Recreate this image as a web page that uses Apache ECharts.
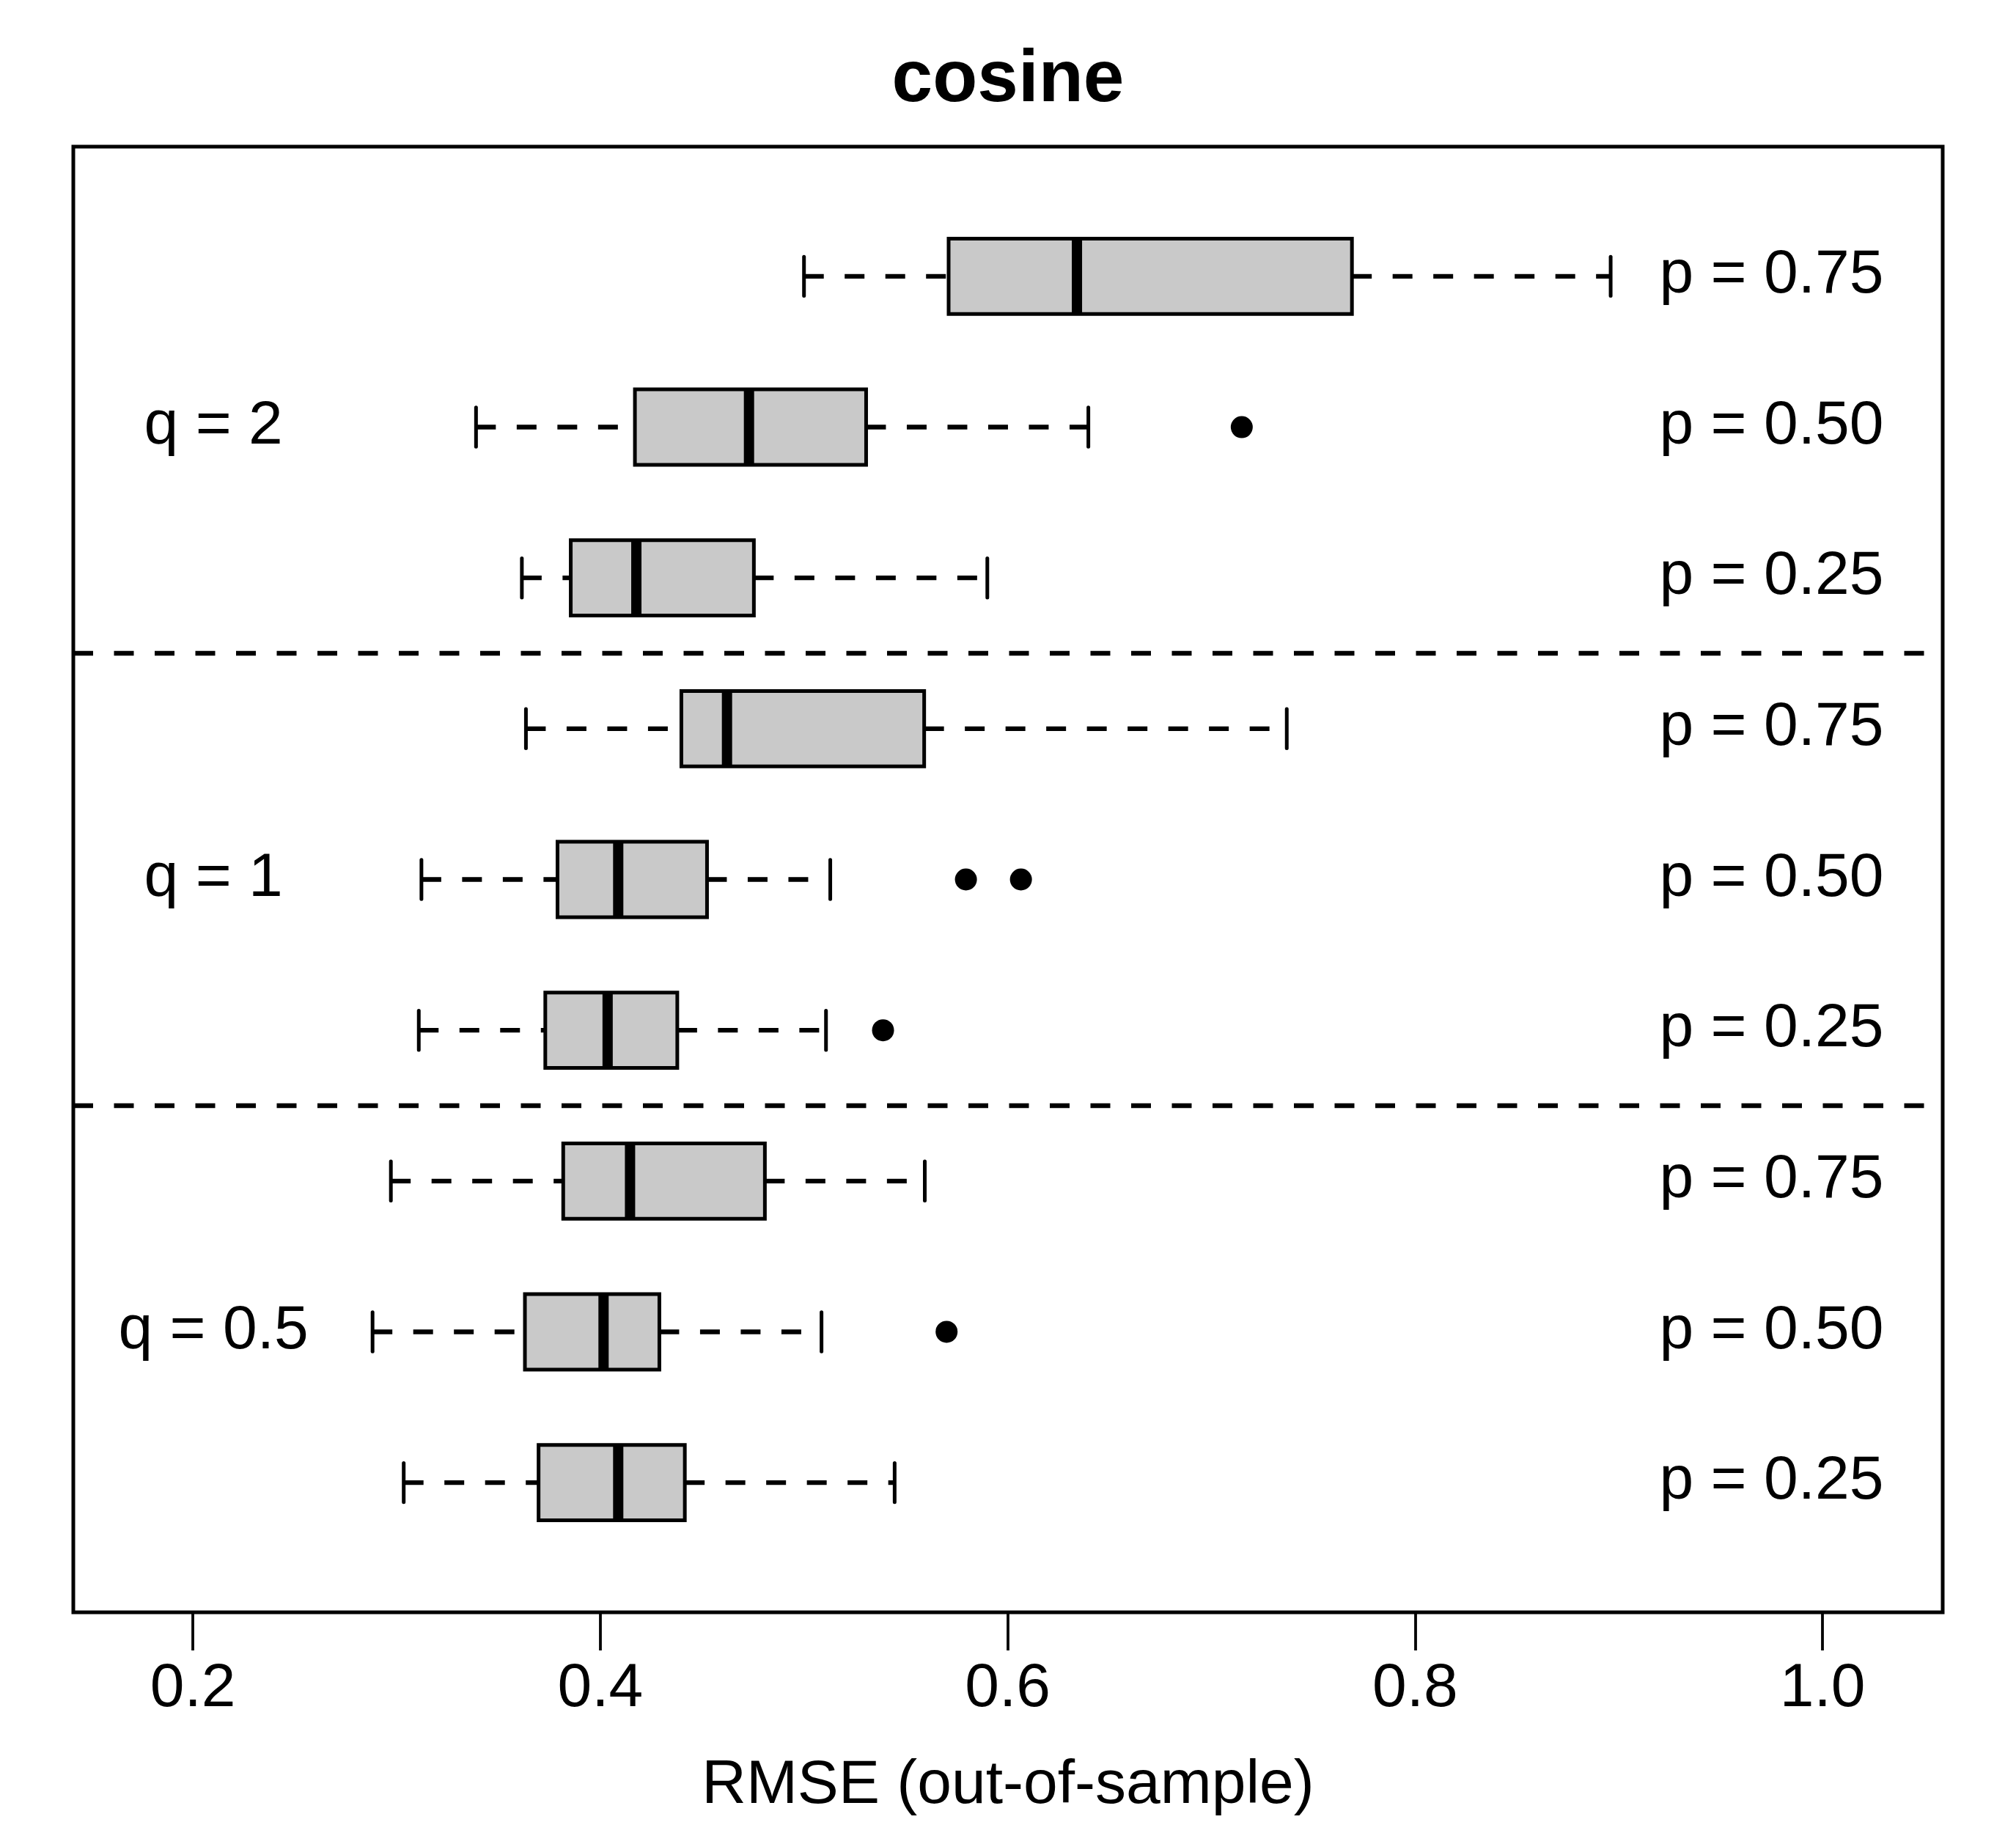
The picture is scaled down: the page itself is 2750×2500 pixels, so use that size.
<!DOCTYPE html>
<html>
<head>
<meta charset="utf-8">
<script src="https://cdn.jsdelivr.net/npm/echarts@6/dist/echarts.min.js"></script>
<style>
html,body{margin:0;padding:0;background:#ffffff;}
#chart{width:2750px;height:2500px;}
</style>
</head>
<body>
<div id="chart"></div>
<script>
// ---------------- data (bottom row = position 1) ----------------
const rowPositions = [1, 2, 3, 4, 5, 6, 7, 8, 9];
const rowLabels = ['p = 0.25', 'p = 0.50', 'p = 0.75',
                   'p = 0.25', 'p = 0.50', 'p = 0.75',
                   'p = 0.25', 'p = 0.50', 'p = 0.75'];
const lowerWhisker = [0.3035, 0.2882, 0.2972, 0.3109, 0.3122, 0.3635, 0.3615, 0.3390, 0.5000];
const lowerQuartile = [0.3697, 0.3630, 0.3818, 0.3730, 0.3790, 0.4398, 0.3855, 0.4170, 0.5710];
const medianValue   = [0.4088, 0.4016, 0.4146, 0.4036, 0.4088, 0.4622, 0.4177, 0.4730, 0.6340];
const upperQuartile = [0.4415, 0.4290, 0.4808, 0.4378, 0.4524, 0.5590, 0.4754, 0.5305, 0.7690];
const upperWhisker  = [0.5445, 0.5086, 0.5593, 0.5108, 0.5129, 0.7370, 0.5900, 0.6396, 0.8960];
const outlierPositions = [2, 4, 5, 5, 8];
const outlierValues    = [0.5700, 0.5388, 0.5795, 0.6065, 0.7149];
const groupLabels    = ['q = 0.5', 'q = 1', 'q = 2'];
const groupPositions = [2, 5, 8];
const separatorPositions = [3.5, 6.5];
const xTickValues = [0.2, 0.4, 0.6, 0.8, 1.0];
const titleText = 'cosine';
const xAxisTitle = 'RMSE (out-of-sample)';

// ---------------- styles ----------------
const FONT = '"Liberation Sans", Arial, Helvetica, sans-serif';
const LW = 5;
const DASH_LW = 6.3;
const MED_LW = 14;
const DASH = [27, 28.5];
const BOX_FILL = '#c9c9c9';
const BOX_HALF = 0.25;
const CAP_HALF = 0.13;
const Q_LABEL_X = 0.2101;
const P_LABEL_X = 0.9199;

const boxData = rowPositions.map((p, i) => [p, lowerWhisker[i], lowerQuartile[i], medianValue[i], upperQuartile[i], upperWhisker[i]]);
const outlierData = outlierPositions.map((p, i) => [outlierValues[i], p]);
const groupData = groupPositions.map(p => [Q_LABEL_X, p]);
const pLabelData = rowPositions.map(p => [P_LABEL_X, p]);
const sepData = separatorPositions.map(p => [0.6, p]);

function renderBox(params, api) {
  const pos = api.value(0);
  const lo = api.value(1), q1 = api.value(2), med = api.value(3), q3 = api.value(4), hi = api.value(5);
  const yc = api.coord([lo, pos])[1];
  const yTop = api.coord([lo, pos + BOX_HALF])[1];
  const yBot = api.coord([lo, pos - BOX_HALF])[1];
  const cTop = api.coord([lo, pos + CAP_HALF])[1];
  const cBot = api.coord([lo, pos - CAP_HALF])[1];
  const xLo = api.coord([lo, pos])[0];
  const xQ1 = api.coord([q1, pos])[0];
  const xMed = api.coord([med, pos])[0];
  const xQ3 = api.coord([q3, pos])[0];
  const xHi = api.coord([hi, pos])[0];
  const dashStyle = {stroke: '#000', lineWidth: DASH_LW, lineDash: DASH, lineCap: 'butt', fill: null};
  const solid = {stroke: '#000', lineWidth: LW, lineCap: 'round', fill: null};
  return {
    type: 'group',
    children: [
      {type: 'line', shape: {x1: xLo, y1: yc, x2: xQ1, y2: yc}, style: dashStyle},
      {type: 'line', shape: {x1: xQ3, y1: yc, x2: xHi, y2: yc}, style: dashStyle},
      {type: 'line', shape: {x1: xLo, y1: cTop, x2: xLo, y2: cBot}, style: solid},
      {type: 'line', shape: {x1: xHi, y1: cTop, x2: xHi, y2: cBot}, style: solid},
      {type: 'rect', shape: {x: xQ1, y: yTop, width: xQ3 - xQ1, height: yBot - yTop},
       style: {fill: BOX_FILL, stroke: '#000', lineWidth: LW, lineJoin: 'miter'}},
      {type: 'line', shape: {x1: xMed, y1: yTop, x2: xMed, y2: yBot},
       style: {stroke: '#000', lineWidth: MED_LW, lineCap: 'butt'}}
    ]
  };
}

function renderSeparator(params, api) {
  const cs = params.coordSys;
  const y = api.coord([api.value(0), api.value(1)])[1];
  return {
    type: 'line',
    shape: {x1: cs.x, y1: y, x2: cs.x + cs.width, y2: y},
    style: {stroke: '#000', lineWidth: DASH_LW, lineDash: DASH, lineCap: 'butt'}
  };
}

function makeTextRenderer(texts, align) {
  return function (params, api) {
    const pt = api.coord([api.value(0), api.value(1)]);
    return {
      type: 'text',
      x: pt[0],
      y: pt[1] - 1,
      style: {
        text: texts[params.dataIndex],
        font: '84px ' + FONT,
        fill: '#000',
        align: align,
        verticalAlign: 'middle',
        textAlign: align,
        textVerticalAlign: 'middle'
      }
    };
  };
}

const chart = echarts.init(document.getElementById('chart'), null, {renderer: 'canvas', width: 2750, height: 2500});

const option = {
  backgroundColor: '#ffffff',
  animation: false,
  grid: {
    left: 100, right: 100, top: 200, bottom: 301,
    show: true, borderColor: '#000', borderWidth: LW, backgroundColor: 'transparent'
  },
  xAxis: {
    type: 'value',
    min: 0.1413,
    max: 1.0590,
    axisLine: {show: false},
    splitLine: {show: false},
    axisTick: {show: true, length: 52, lineStyle: {color: '#000', width: 3.8}, customValues: xTickValues},
    axisLabel: {
      show: true, margin: 63, color: '#000', fontSize: 84, lineHeight: 84,
      fontFamily: FONT, customValues: xTickValues,
      formatter: v => Number(v).toFixed(1)
    }
  },
  yAxis: {
    type: 'value',
    min: 0.14,
    max: 9.86,
    show: false,
    splitLine: {show: false}
  },
  graphic: [
    {type: 'text', x: 1375, y: 110, z: 100,
     style: {text: titleText, font: 'bold 100px ' + FONT, fill: '#000',
             align: 'center', verticalAlign: 'middle', textAlign: 'center', textVerticalAlign: 'middle'}},
    {type: 'text', x: 1375, y: 2436, z: 100,
     style: {text: xAxisTitle, font: '84px ' + FONT, fill: '#000',
             align: 'center', verticalAlign: 'middle', textAlign: 'center', textVerticalAlign: 'middle'}}
  ],
  series: [
    {type: 'custom', renderItem: renderSeparator, data: sepData, z: 1, silent: true},
    {type: 'custom', renderItem: renderBox, data: boxData, z: 2, silent: true,
     encode: {x: [1, 2, 3, 4, 5], y: 0}},
    {type: 'scatter', data: outlierData, symbol: 'circle', symbolSize: 30,
     itemStyle: {color: '#000', opacity: 1}, z: 3, silent: true},
    {type: 'custom', renderItem: makeTextRenderer(groupLabels, 'center'), data: groupData, z: 4, silent: true},
    {type: 'custom', renderItem: makeTextRenderer(rowLabels, 'left'), data: pLabelData, z: 4, silent: true}
  ]
};
chart.setOption(option);
</script>
</body>
</html>
